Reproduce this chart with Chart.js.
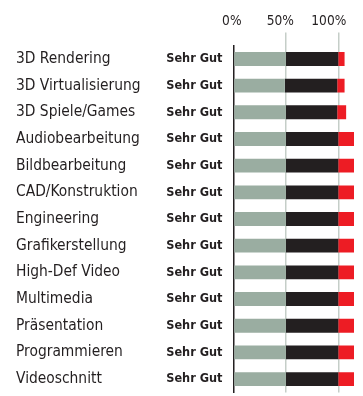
<!DOCTYPE html>
<html>
<head>
<meta charset="utf-8">
<script src="https://cdn.jsdelivr.net/npm/chart.js@4/dist/chart.umd.min.js"></script>
<style>
  html, body { margin: 0; padding: 0; background: #fff; }
  .wrap { position: relative; width: 363px; height: 396px; }
</style>
</head>
<body>
<div class="wrap"><canvas id="chart"></canvas></div>
<script>
const categories = [
  '3D Rendering', '3D Virtualisierung', '3D Spiele/Games', 'Audiobearbeitung',
  'Bildbearbeitung', 'CAD/Konstruktion', 'Engineering', 'Grafikerstellung',
  'High-Def Video', 'Multimedia', 'Präsentation', 'Programmieren', 'Videoschnitt'
];
const ratings = [
  'Sehr Gut', 'Sehr Gut', 'Sehr Gut', 'Sehr Gut', 'Sehr Gut', 'Sehr Gut', 'Sehr Gut',
  'Sehr Gut', 'Sehr Gut', 'Sehr Gut', 'Sehr Gut', 'Sehr Gut', 'Sehr Gut'
];
const greyPart  = [50, 49, 50, 50, 50, 50, 50, 50, 50, 50, 50, 50, 50];
const blackPart = [50, 50, 49, 50, 50, 50, 50, 50, 50, 50, 50, 50, 50];
const redPart   = [6, 7, 8.5, 15, 15, 15, 15, 15, 15, 15, 15, 15, 15];
const xTicks = [0, 50, 100];

const FONT = "'DejaVu Sans Condensed', 'Liberation Sans', sans-serif";
const INK = '#231f20';

const bar = (data, color) => ({
  data,
  backgroundColor: color,
  borderWidth: 0,
  barPercentage: 0.52,
  categoryPercentage: 1
});

// keep the label half-heights from pushing the plot area inwards
const noPad = (s) => { s.paddingTop = 0; s.paddingBottom = 0; };

new Chart(document.getElementById('chart'), {
  type: 'bar',
  data: {
    labels: categories,
    datasets: [
      bar(greyPart, '#9aada1'),
      bar(blackPart, INK),
      bar(redPart, '#ed1c24')
    ]
  },
  options: {
    indexAxis: 'y',
    responsive: true,
    maintainAspectRatio: false,
    animation: false,
    devicePixelRatio: 1,
    layout: { padding: { left: 16, right: 9, top: 10.3, bottom: 3.6 } },
    plugins: { legend: { display: false }, tooltip: { enabled: false } },
    scales: {
      x: {
        position: 'top',
        stacked: true,
        min: 0,
        max: 115,
        afterBuildTicks: (s) => { s.ticks = xTicks.map(v => ({ value: v })); },
        afterFit: (s) => { s.paddingLeft = 0; s.paddingRight = 0; },
        border: { display: false },
        grid: {
          color: (c) => (c.tick && c.tick.value === 0) ? 'rgba(0,0,0,0)' : '#c5cec8',
          lineWidth: 1.5,
          tickLength: 13
        },
        ticks: {
          color: INK,
          padding: 3,
          align: 'end',
          labelOffset: 8,
          maxRotation: 0,
          font: { family: FONT, size: 13.6 },
          callback: (v) => v + '%'
        }
      },
      y: {
        position: 'left',
        stacked: true,
        weight: 1,
        afterFit: (s) => { s.width = 142.5; noPad(s); },
        border: { display: false },
        grid: { display: false, drawTicks: false },
        ticks: {
          color: INK,
          padding: 0,
          crossAlign: 'far',
          font: { family: FONT, size: 15.4 }
        }
      },
      rating: {
        type: 'category',
        axis: 'y',
        position: 'left',
        weight: 0,
        labels: ratings,
        offset: true,
        afterFit: (s) => { s.width = 75; noPad(s); },
        border: { display: true, color: INK, width: 1.5 },
        grid: { display: false, drawTicks: false },
        ticks: {
          color: INK,
          padding: 11,
          crossAlign: 'near',
          font: { family: FONT, size: 12.6, weight: 'bold' }
        }
      }
    }
  }
});
</script>
</body>
</html>
